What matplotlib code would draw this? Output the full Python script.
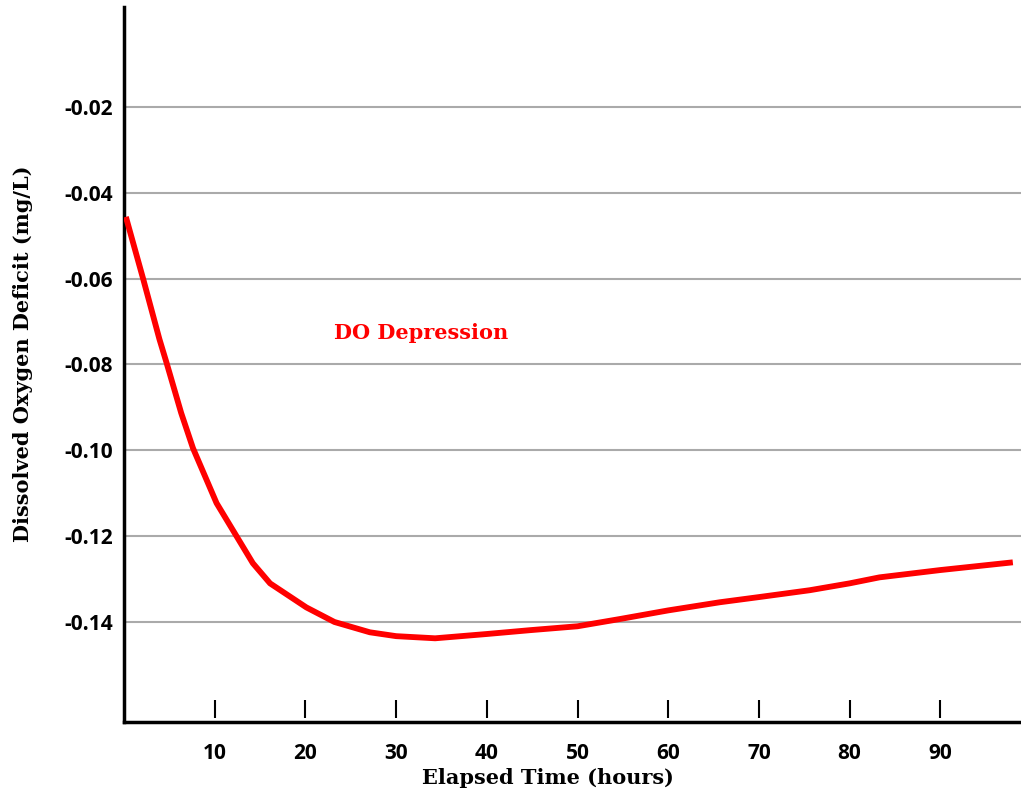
import matplotlib.pyplot as plt
import numpy as np

# elapsed time (hours) and DO deficit (mg/L)
hours = [0.2, 2.1, 3.9, 4.7, 6.3, 7.6, 10.2, 12.2, 14.2, 16.1, 20.1, 23.2, 27.1,
         30, 34.3, 40, 44.8, 50, 54.7, 60, 65.7, 70, 75.6, 80, 83.3, 90, 98]
deficit = [-0.0456, -0.0600, -0.0741, -0.0797, -0.0913, -0.0995, -0.1123, -0.1193,
           -0.1263, -0.1310, -0.1366, -0.1400, -0.1424, -0.1433, -0.1438, -0.1428,
           -0.1419, -0.1410, -0.1393, -0.1373, -0.1354, -0.1342, -0.1326, -0.1310,
           -0.1296, -0.1279, -0.1261]

xticks = [10, 20, 30, 40, 50, 60, 70, 80, 90]
yticks = [-0.02, -0.04, -0.06, -0.08, -0.10, -0.12, -0.14]
ylabels = ["-0.02", "-0.04", "-0.06", "-0.08", "-0.10", "-0.12", "-0.14"]

fig = plt.figure(figsize=(10.21, 7.94), dpi=100)
ax = fig.add_axes([0.1215, 0.0907, 0.8785, 0.9005])

for y in yticks:
    ax.axhline(y, color="#aaaaaa", linewidth=1.5, zorder=1)

ax.plot(hours, deficit, color="#ff0000", linewidth=4.2, solid_capstyle="butt",
        solid_joinstyle="round", zorder=3)

ax.text(23.1, -0.0727, "DO Depression", color="#ff0000", fontsize=15,
        fontfamily="DejaVu Serif", fontweight="bold", va="center", ha="left")

ax.set_xlim(0, 98.9)
ax.set_ylim(-0.1633, 0.0033)

ax.set_xticks(xticks)
ax.set_xticklabels([str(t) for t in xticks])
ax.set_yticks(yticks)
ax.set_yticklabels(ylabels)
ax.tick_params(axis="x", length=0, pad=15)
ax.tick_params(axis="y", length=0, pad=8)
for lab in ax.get_xticklabels() + ax.get_yticklabels():
    lab.set_fontfamily("Open Sans")
    lab.set_fontweight("bold")
    lab.set_fontsize(15)

# tick marks sitting just above the bottom spine
ax.vlines(xticks, 0.006, 0.031, transform=ax.get_xaxis_transform(),
          color="black", linewidth=1.5, zorder=2)

for s in ["top", "right"]:
    ax.spines[s].set_visible(False)
for s in ["left", "bottom"]:
    ax.spines[s].set_linewidth(2.5)

ax.set_xlabel("Elapsed Time (hours)", fontsize=15, fontfamily="DejaVu Serif",
              fontweight="bold")
ax.set_ylabel("Dissolved Oxygen Deficit (mg/L)", fontsize=15, fontfamily="DejaVu Serif",
              fontweight="bold")
ax.xaxis.set_label_coords(0.473, -0.064)
ax.yaxis.set_label_coords(-0.102, 0.515)

fig.savefig("out.png", dpi=100)
